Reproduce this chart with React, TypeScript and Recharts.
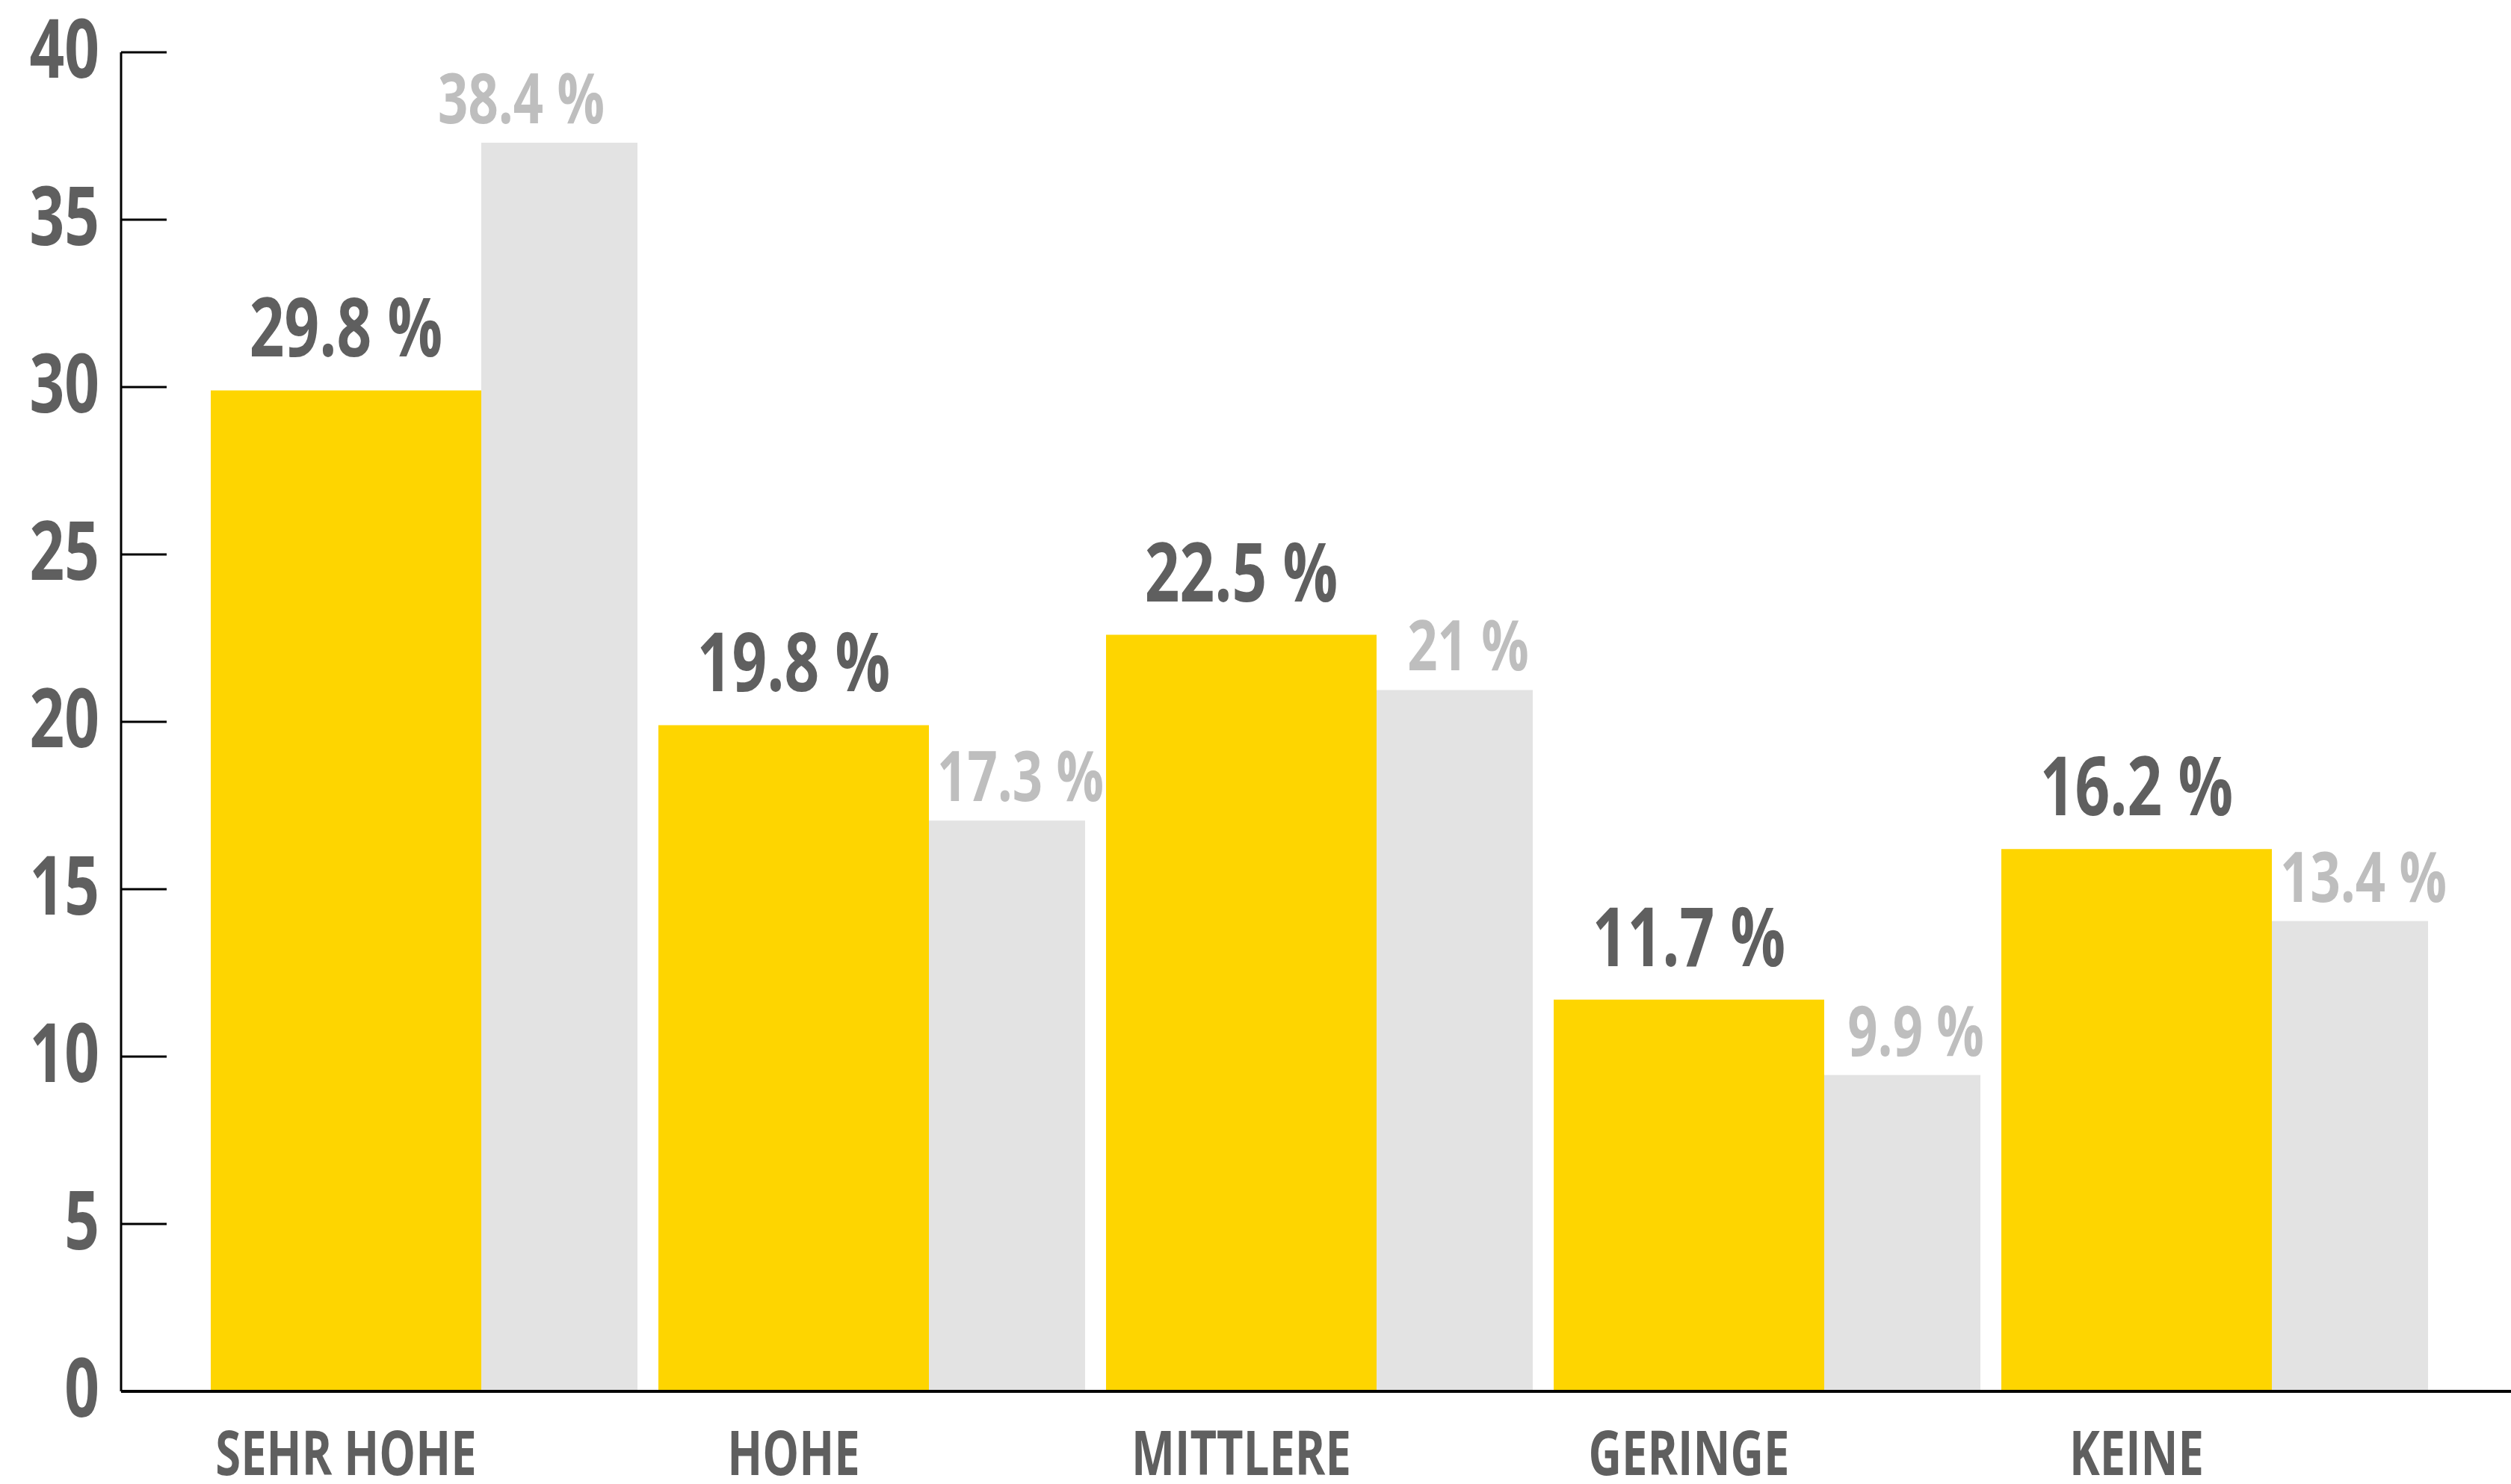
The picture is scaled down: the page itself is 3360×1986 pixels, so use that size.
import { BarChart, Bar, XAxis, YAxis, LabelList } from 'recharts';

const categories = ['SEHR HOHE', 'HOHE', 'MITTLERE', 'GERINGE', 'KEINE'];
// heights as drawn in the picture
const yellowValues = [29.9, 19.9, 22.6, 11.7, 16.2];
const greyValues = [37.3, 17.05, 20.95, 9.45, 14.05];
// printed labels
const yellowLabels = ['29.8 %', '19.8 %', '22.5 %', '11.7 %', '16.2 %'];
const greyLabels = ['38.4 %', '17.3 %', '21 %', '9.9 %', '13.4 %'];
const yTicks = [0, 5, 10, 15, 20, 25, 30, 35, 40];

const YELLOW = '#FED500';
const GREY = '#E3E3E3';
const DARK_TEXT = '#5F5F5F';
const LIGHT_TEXT = '#BEBEBE';
const FONT = "'Open Sans', sans-serif";
const SQUEEZE = 0.75; // condensed look of the original typeface

const YELLOW_SIZE = 362;
const GREY_SIZE = 311;
const BAR_GAP = -102;

const data = categories.map((name, i) => ({
  name,
  yellow: yellowValues[i],
  grey: greyValues[i],
  yellowLabel: yellowLabels[i],
  greyLabel: greyLabels[i],
}));

const CondText = ({ x, y, anchor = 'middle', size, fill, children }: any) => (
  <text
    transform={`translate(${x} ${y}) scale(${SQUEEZE} 1)`}
    textAnchor={anchor}
    fill={fill}
    fontSize={size}
    fontWeight="bold"
    fontFamily={FONT}
  >
    {children}
  </text>
);

const YTick = (props: any) => {
  const { x, y, payload } = props;
  return (
    <g>
      <line x1={x} x2={x + 61} y1={y} y2={y} stroke="#000" strokeWidth={3} />
      <CondText x={x - 29} y={y + 34} anchor="end" size={109} fill={DARK_TEXT}>
        {payload.value}
      </CondText>
    </g>
  );
};

const XTick = (props: any) => {
  const { x, y, payload } = props;
  const dx = -(GREY_SIZE + BAR_GAP) / 2;
  return (
    <CondText x={x + dx} y={y + 112} size={82} fill={DARK_TEXT}>
      {payload.value}
    </CondText>
  );
};

// grey bar only shows the part not hidden behind the yellow one
const GreyShape = (props: any) => {
  const { x, y, width, height } = props;
  return <rect x={x - BAR_GAP} y={y} width={width + BAR_GAP} height={height} fill={GREY} />;
};

const YellowLabel = (props: any) => {
  const { x, y, width, value } = props;
  return (
    <CondText x={x + width / 2} y={y - 45} size={109} fill={DARK_TEXT}>
      {value}
    </CondText>
  );
};

const GreyLabel = (props: any) => {
  const { x, y, width, value, index } = props;
  const uncovered = greyValues[index] > yellowValues[index];
  const cx = uncovered ? x + width / 2 : x - BAR_GAP + (width + BAR_GAP) / 2 + 18;
  return (
    <CondText x={cx} y={y - 26} size={94} fill={LIGHT_TEXT}>
      {value}
    </CondText>
  );
};

export default function App() {
  return (
    <div style={{ position: 'absolute', left: 0, top: 0, background: '#fff' }}>
      <BarChart
        width={3360}
        height={1986}
        data={data}
        margin={{ top: 70, right: 0, bottom: 0, left: 0 }}
        barGap={BAR_GAP}
      >
        <XAxis
          dataKey="name"
          height={124}
          padding={{ left: 106, right: 97 }}
          axisLine={{ stroke: '#000', strokeWidth: 4 }}
          tickLine={false}
          tickSize={0}
          tickMargin={0}
          tick={<XTick />}
          interval={0}
        />
        <YAxis
          width={162}
          domain={[0, 40]}
          ticks={yTicks}
          axisLine={{ stroke: '#000', strokeWidth: 3 }}
          tickLine={false}
          tickSize={0}
          tickMargin={0}
          tick={<YTick />}
          interval={0}
        />
        <Bar dataKey="yellow" fill={YELLOW} barSize={YELLOW_SIZE} isAnimationActive={false}>
          <LabelList dataKey="yellowLabel" content={<YellowLabel />} />
        </Bar>
        <Bar dataKey="grey" fill={GREY} barSize={GREY_SIZE} shape={<GreyShape />} isAnimationActive={false}>
          <LabelList dataKey="greyLabel" content={<GreyLabel />} />
        </Bar>
      </BarChart>
    </div>
  );
}
